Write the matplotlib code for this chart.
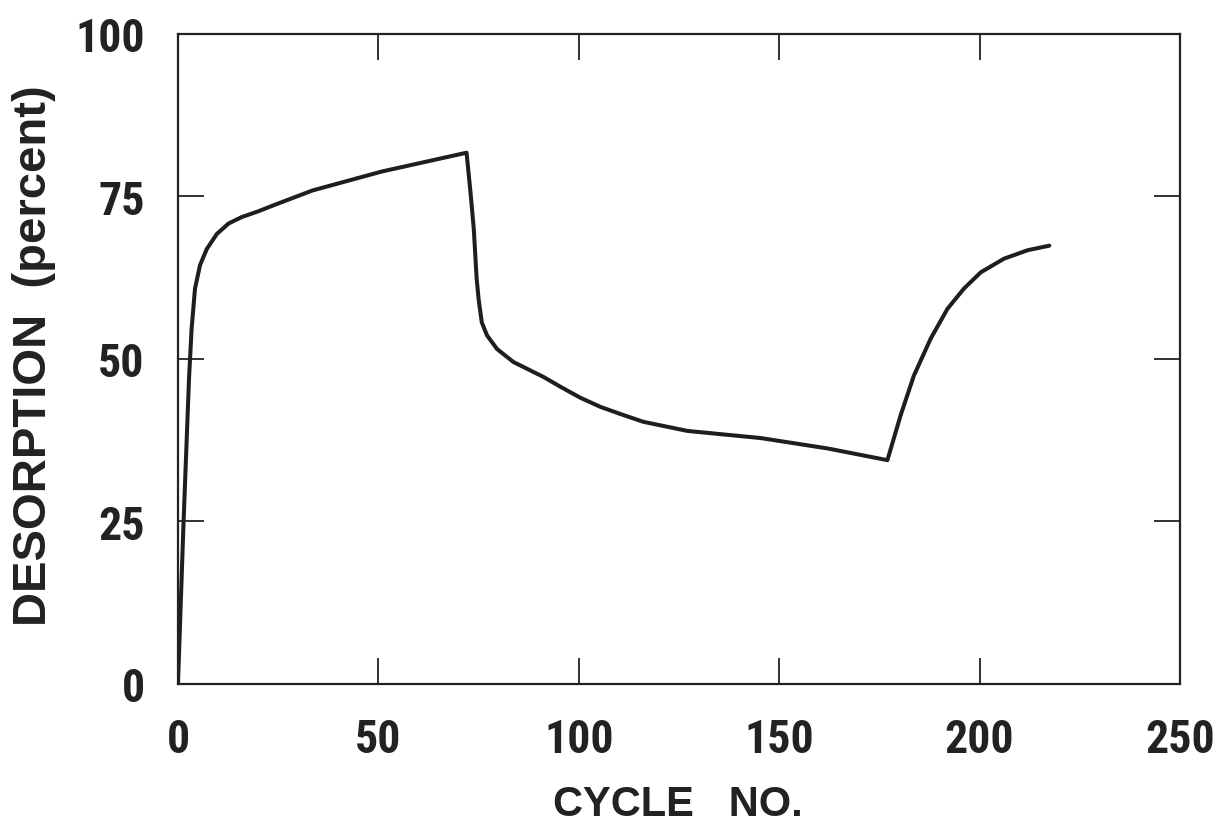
import matplotlib
matplotlib.use("Agg")
import matplotlib.pyplot as plt

# ── data ──────────────────────────────────────────────────────────────────
cycle = [0, 1.4, 2.75, 3.4, 4.25, 5.5, 7.2, 9.7, 12.6, 15.9, 20.1, 24.2,
         33.6, 50.8, 72.0,
         73.0, 73.8, 74.5, 75.0, 75.8, 77.1, 79.6, 83.7, 91.2, 95.4, 100.4,
         105.4, 110.4, 116.1, 127.1, 145.4, 162.1, 177.0,
         180.3, 183.6, 187.8, 192.0, 196.1, 200.3, 206.1, 212.0, 217.4]
desorption = [0, 25.0, 46.9, 54.6, 60.8, 64.4, 66.9, 69.2, 70.8, 71.8, 72.7, 73.7,
              75.9, 78.8, 81.7,
              75.5, 70.0, 62.5, 59.2, 55.6, 53.6, 51.5, 49.5, 47.2, 45.7, 44.0,
              42.6, 41.5, 40.3, 38.9, 37.8, 36.2, 34.4,
              41.3, 47.4, 53.1, 57.7, 60.8, 63.3, 65.4, 66.7, 67.4]

x_ticks = [0, 50, 100, 150, 200, 250]
y_ticks = [0, 25, 50, 75, 100]

plt.rcParams["font.family"] = ["Roboto Condensed", "DejaVu Sans"]
plt.rcParams["font.weight"] = "bold"
TITLE_FONT = ["Liberation Sans", "DejaVu Sans"]

# ── figure ────────────────────────────────────────────────────────────────
fig = plt.figure(figsize=(12.19, 8.28), dpi=100)
ax = fig.add_axes([0.146, 0.173, 0.822, 0.785])

ax.plot(cycle, desorption, color="#1e1e1e", lw=2.9,
        solid_joinstyle="round", solid_capstyle="round")

ax.set_xlim(0, 250)
ax.set_ylim(0, 100)
ax.set_xticks(x_ticks)
ax.set_yticks(y_ticks)
ax.set_xticklabels([str(v) for v in x_ticks], fontsize=33, fontweight="bold",
                   color="#222222")
ax.set_yticklabels([str(v) for v in y_ticks], fontsize=33, fontweight="bold",
                   color="#222222")

ax.tick_params(direction="in", top=True, right=True, length=19, width=1.3,
               color="#222222")
ax.tick_params(axis="x", pad=24)
ax.tick_params(axis="y", pad=24)

for s in ax.spines.values():
    s.set_linewidth(1.6)
    s.set_color("#222222")

# axis titles placed to match the scanned figure
fig.text(0.556, 0.014, "CYCLE   NO.", ha="center", va="baseline",
         fontsize=30, fontweight="bold", color="#222222", family=TITLE_FONT)
fig.text(0.028, 0.571, "DESORPTION  (percent)", ha="center", va="center",
         rotation=90, fontsize=34, fontweight="bold", color="#222222",
         family=TITLE_FONT)

fig.savefig("out.png", dpi=100, facecolor="white")
